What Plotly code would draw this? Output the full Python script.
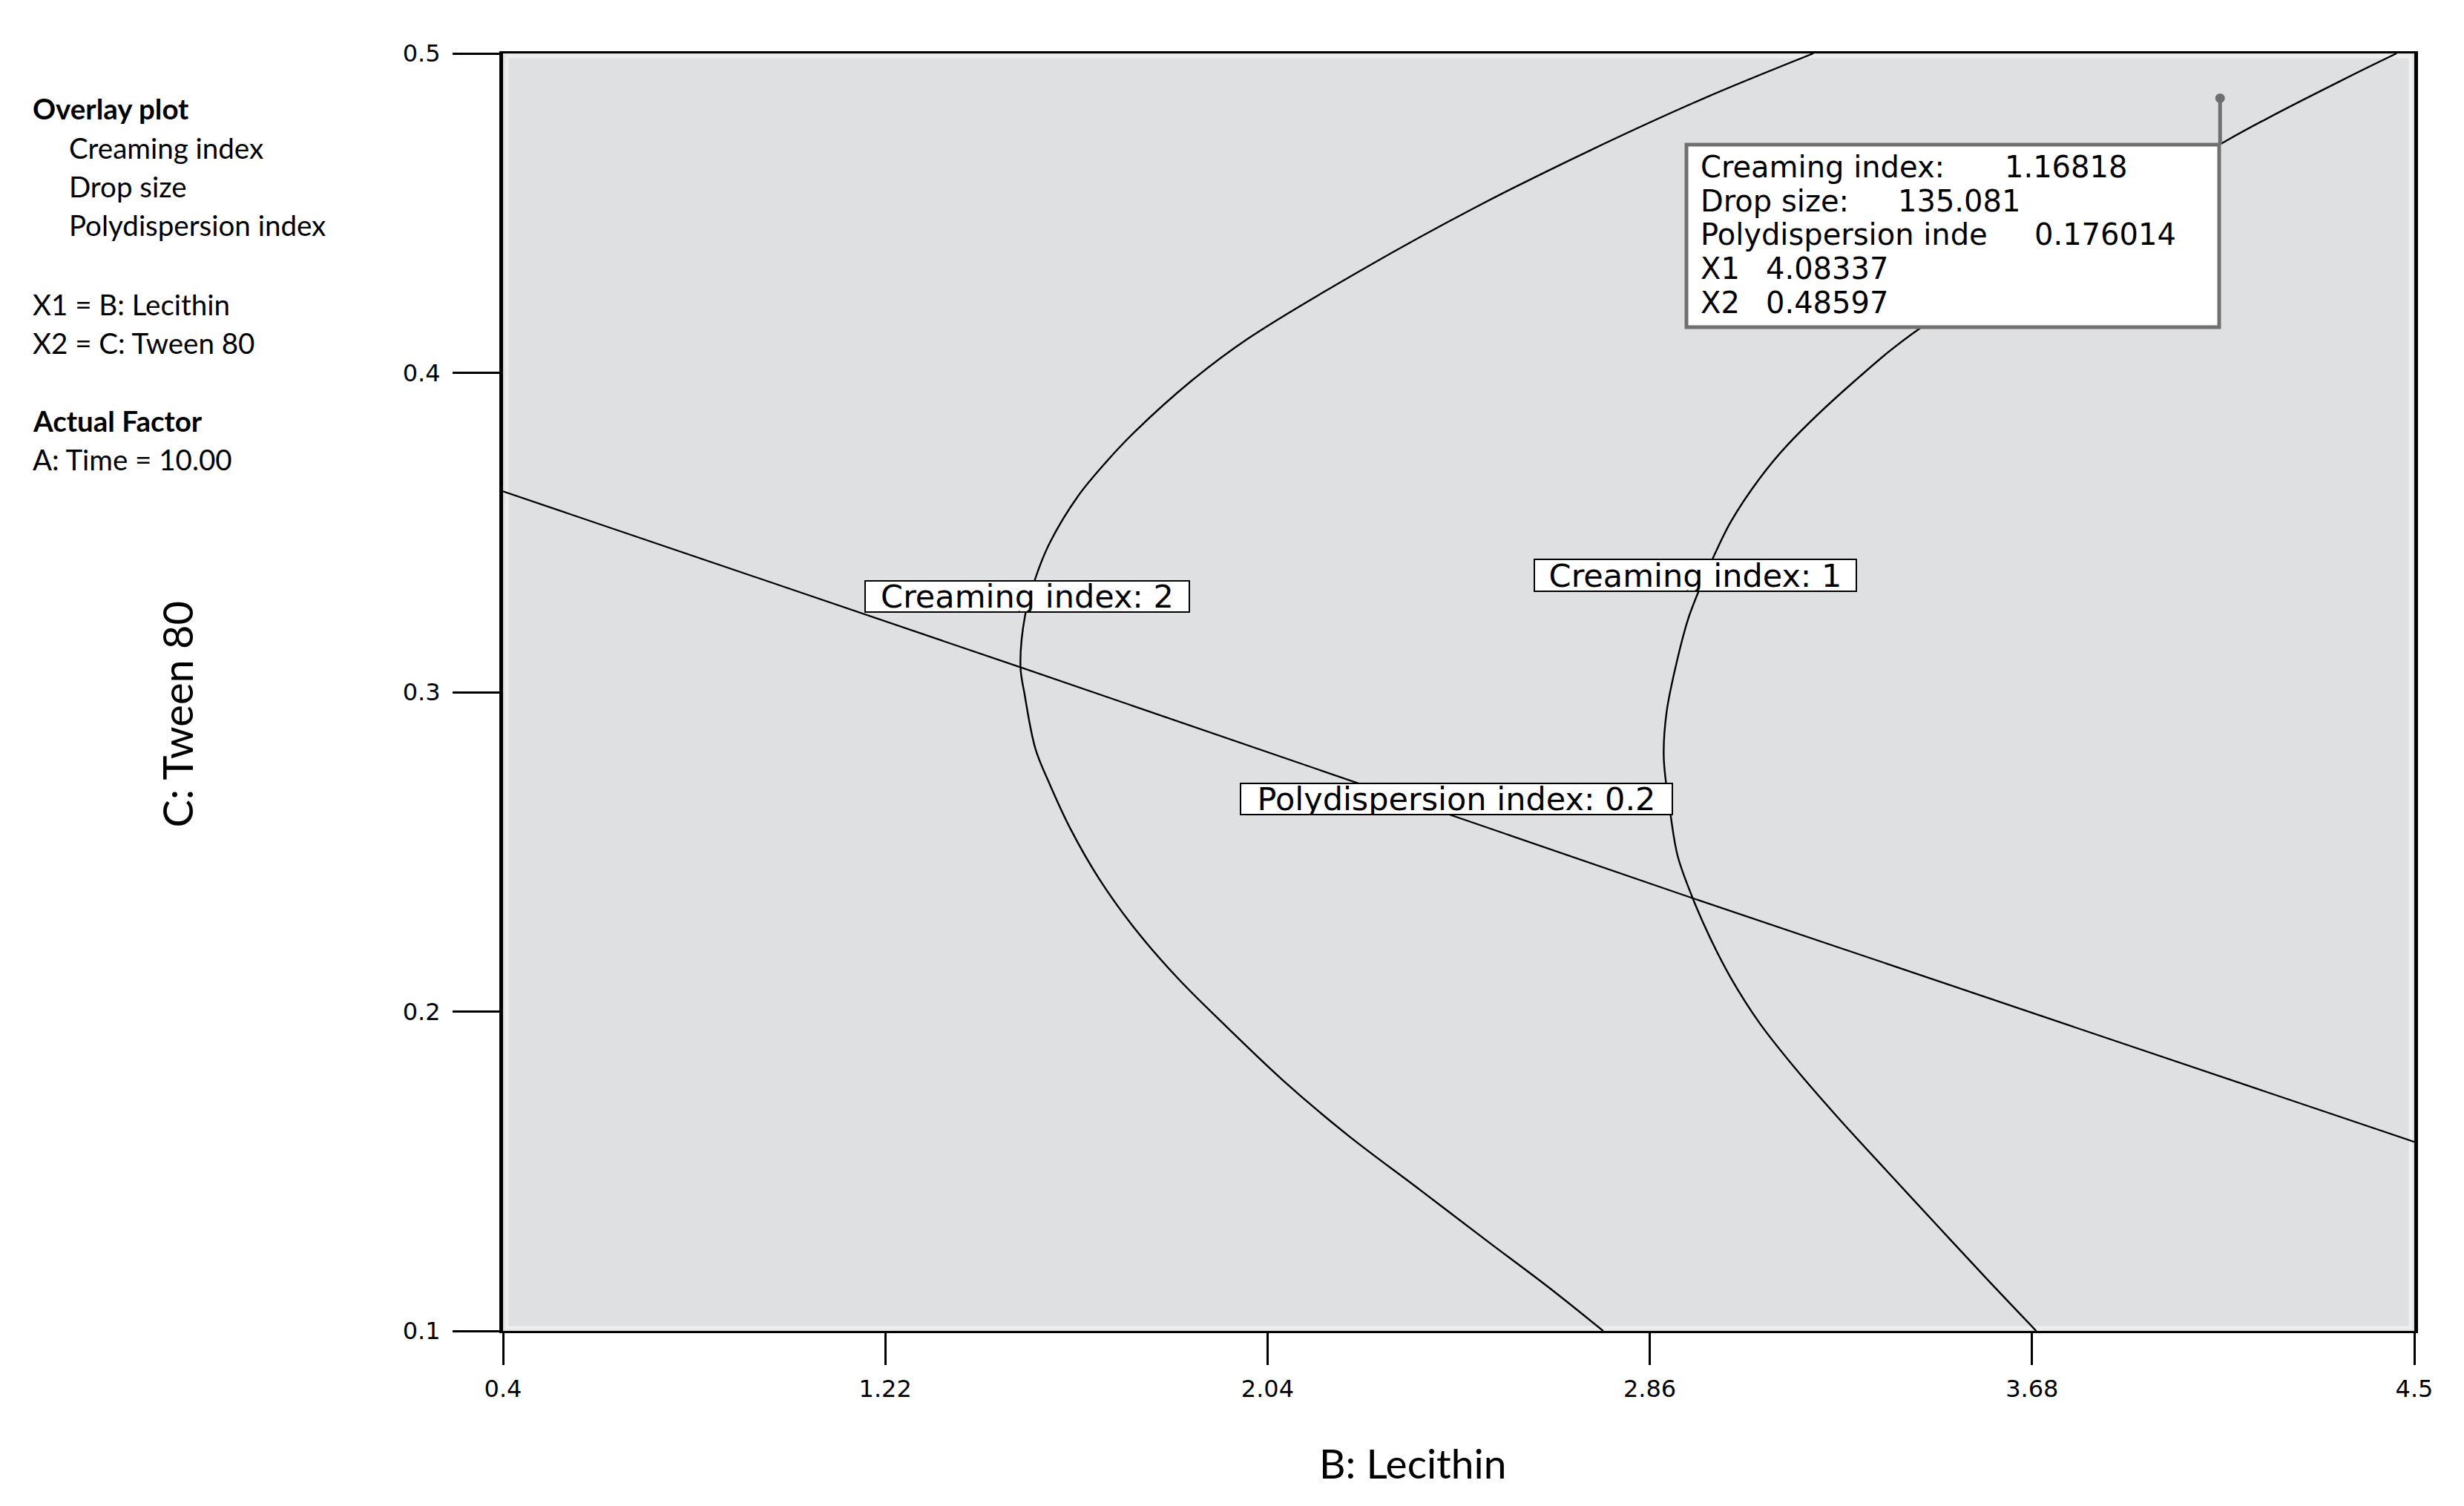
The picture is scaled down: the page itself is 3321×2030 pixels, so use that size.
import plotly.graph_objects as go

# Contour "Creaming index: 2" (B: Lecithin, C: Tween 80), read from top edge down
ci2_x = [3.211, 2.974, 2.730, 2.486, 2.243, 1.999, 1.877, 1.755, 1.694, 1.634, 1.573, 1.543,
         1.520, 1.510, 1.519, 1.542, 1.573, 1.618, 1.679, 1.755, 1.847, 1.953, 2.075, 2.212,
         2.365, 2.517, 2.639, 2.760]
ci2_y = [0.500, 0.4858, 0.4695, 0.4518, 0.4323, 0.4108, 0.3975, 0.3815, 0.3721, 0.3615, 0.3468, 0.3361,
         0.3241, 0.3080, 0.2992, 0.2823, 0.2711, 0.2570, 0.2415, 0.2260, 0.2105, 0.1951, 0.1782, 0.1613,
         0.1444, 0.1275, 0.1141, 0.100]

# Contour "Creaming index: 1"
ci1_x = [4.462, 4.345, 4.096, 3.443, 3.300, 3.156, 3.095, 3.034, 2.994, 2.959, 2.942, 2.920,
         2.896, 2.890, 2.905, 2.920, 2.951, 2.989, 3.034, 3.095, 3.171, 3.263, 3.369, 3.476,
         3.583, 3.689]
ci1_y = [0.500, 0.4916, 0.4726, 0.4143, 0.3975, 0.3775, 0.3668, 0.3534, 0.3415, 0.3295, 0.3228, 0.3108,
         0.2937, 0.2795, 0.2612, 0.2486, 0.2359, 0.2232, 0.2105, 0.1965, 0.1824, 0.1669, 0.1500, 0.1331,
         0.1163, 0.100]

# Contour "Polydispersion index: 0.2"
pdi_x = [0.4, 1.512, 2.958, 4.5]
pdi_y = [0.3629, 0.3077, 0.2352, 0.1592]

x_ticks = [0.4, 1.22, 2.04, 2.86, 3.68, 4.5]
y_ticks = [0.1, 0.2, 0.3, 0.4, 0.5]

# flagged point
flag_x1 = 4.08337
flag_x2 = 0.48597
flag_rows = [
    ("Creaming index:", "1.16818"),
    ("Drop size:", "135.081"),
    ("Polydispersion inde", "0.176014"),
    ("X1", "4.08337"),
    ("X2", "0.48597"),
]

notes = [
    ("<b>Overlay plot</b>", 0),
    ("Creaming index", 1),
    ("Drop size", 1),
    ("Polydispersion index", 1),
    ("X1 = B: Lecithin", 0),
    ("X2 = C: Tween 80", 0),
    ("<b>Actual Factor</b>", 0),
    ("A: Time = 10.00", 0),
]

# page is offset by the 8px body margin
OFF = 8
W, H = 3321 - 2 * OFF, 2030 - 2 * OFF
L, R, T, B = 678, 3254, 72, 1794  # plot area in page pixels


def fx(px):
    return (px - L) / (R - L)


def fy(py):
    return (B - py) / (B - T)


fig = go.Figure()
line = dict(color="black", width=2.4, shape="spline", smoothing=1.0)
fig.add_trace(go.Scatter(x=pdi_x, y=pdi_y, mode="lines", line=dict(color="black", width=2.2), hoverinfo="skip"))
fig.add_trace(go.Scatter(x=ci2_x, y=ci2_y, mode="lines", line=line, hoverinfo="skip"))
fig.add_trace(go.Scatter(x=ci1_x, y=ci1_y, mode="lines", line=line, hoverinfo="skip"))
fig.add_trace(go.Scatter(x=[flag_x1], y=[flag_x2], mode="markers",
                         marker=dict(color="#6f6f6f", size=13), hoverinfo="skip"))

# faint light rim just inside the frame
fig.add_shape(type="rect", xref="paper", yref="paper", x0=fx(L + 5), x1=fx(R - 5), y0=fy(B - 4), y1=fy(T + 4),
              line=dict(color="#eeeeee", width=5), layer="below")

# flag stem + info box
fig.add_shape(type="line", xref="x", yref="paper", x0=flag_x1, x1=flag_x1,
              y0=(flag_x2 - 0.1) / 0.4, y1=fy(195), line=dict(color="#6f6f6f", width=5), layer="above")
fig.add_shape(type="rect", xref="paper", yref="paper", x0=fx(2273), x1=fx(2991), y0=fy(441), y1=fy(195),
              fillcolor="white", line=dict(color="#707070", width=5), layer="above")

tip_font = dict(family="DejaVu Sans", size=40, color="black")
value_x = [2700, 2556, 2740, 2378, 2378]
for i, (lab, val) in enumerate(flag_rows):
    yy = fy(224.6 + 45.9 * i)
    fig.add_annotation(x=fx(2290), y=yy, xref="paper", yref="paper", text=lab, showarrow=False,
                       xanchor="left", yanchor="middle", font=tip_font)
    fig.add_annotation(x=fx(value_x[i]), y=yy, xref="paper", yref="paper", text=val, showarrow=False,
                       xanchor="left", yanchor="middle", font=tip_font)

# contour labels (center px, box width, box height)
lab_font = dict(family="DejaVu Sans", size=43, color="black")
for text, cx, cy, bw, bh in [
    ("Creaming index: 2", 1384.5, 804, 439, 44),
    ("Creaming index: 1", 2285, 775, 436, 45),
    ("Polydispersion index: 0.2", 1963, 1076.6, 584, 44),
]:
    fig.add_annotation(x=fx(cx), y=fy(cy), xref="paper", yref="paper", text=text, showarrow=False,
                       xanchor="center", yanchor="middle", font=lab_font, bgcolor="white",
                       bordercolor="black", borderwidth=2, borderpad=0, width=bw - 4, height=bh - 4)

# left side notes
note_y = [146, 199, 251, 303, 410, 462, 567, 619]
for (text, indent), yy in zip(notes, note_y):
    fig.add_annotation(x=fx(91 if indent else 42), y=fy(yy), xref="paper", yref="paper", text=text,
                       showarrow=False, xanchor="left", yanchor="middle",
                       font=dict(family="Lato", size=38.5, color="black"))

# axis titles
fig.add_annotation(x=fx(1904), y=fy(1972), xref="paper", yref="paper", text="B: Lecithin", showarrow=False,
                   xanchor="center", yanchor="middle", font=dict(family="Lato", size=55, color="black"))
fig.add_annotation(x=fx(238), y=fy(962.5), xref="paper", yref="paper", text="C: Tween 80", showarrow=False,
                   textangle=-90, xanchor="center", yanchor="middle",
                   font=dict(family="Lato", size=56, color="black"))

fig.update_layout(
    width=W,
    height=H,
    margin=dict(l=L - OFF, r=W - (R - OFF), t=T - OFF, b=H - (B - OFF), pad=0),
    paper_bgcolor="white",
    plot_bgcolor="#dfe0e1",
    showlegend=False,
)
fig.update_xaxes(
    range=[0.4, 4.5], tickvals=x_ticks, ticktext=[str(v) for v in x_ticks],
    ticks="outside", ticklen=43, tickwidth=2.5, tickcolor="black",
    showline=True, linewidth=3, linecolor="black", mirror=True,
    showgrid=False, zeroline=False, ticklabelstandoff=5,
    tickfont=dict(family="DejaVu Sans", size=32, color="black"),
)
fig.update_yaxes(
    range=[0.1, 0.5], tickvals=y_ticks, ticktext=[str(v) for v in y_ticks],
    ticks="outside", ticklen=63, tickwidth=2.5, tickcolor="black",
    showline=True, linewidth=5, linecolor="black", mirror=True,
    showgrid=False, zeroline=False, ticklabelstandoff=10,
    tickfont=dict(family="DejaVu Sans", size=32, color="black"),
)

fig.write_html("out.html")
